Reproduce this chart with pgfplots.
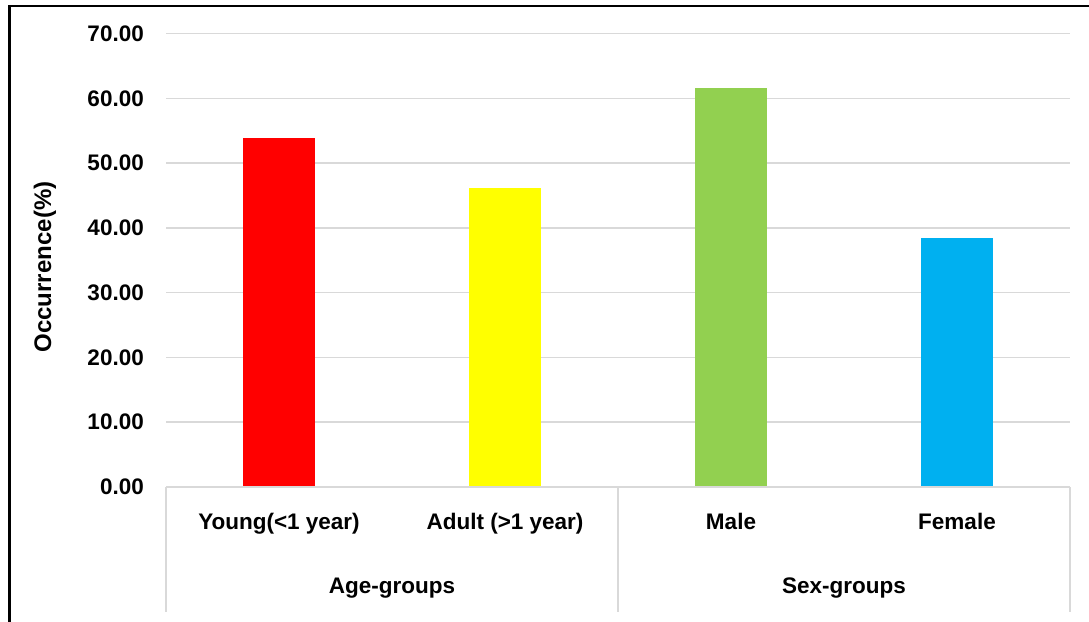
\documentclass[border=0pt]{standalone}
\usepackage{fontspec}
\setmainfont{Liberation Sans}
\usepackage{pgfplots}
\pgfplotsset{compat=1.18}
\definecolor{gridgray}{HTML}{D9D9D9}
\definecolor{barred}{HTML}{FF0000}
\definecolor{baryellow}{HTML}{FFFF00}
\definecolor{bargreen}{HTML}{92D050}
\definecolor{barblue}{HTML}{00B0F0}
\newcommand{\lbl}{\fontsize{22.5}{27}\selectfont\bfseries}
\begin{document}
\begin{tikzpicture}
\useasboundingbox (0,0) rectangle (1089pt,621pt);
\clip (0,0) rectangle (1089pt,621pt);
\fill[white] (0,0) rectangle (1089pt,621pt);
\draw[line width=2.3pt,black] (9.5pt,-20pt) -- (9.5pt,615pt) -- (1120pt,615pt);
\begin{axis}[
  at={(166pt,134pt)}, anchor=south west,
  scale only axis, width=904pt, height=453.3pt,
  ybar, bar width=72pt,
  xmin=-0.5, xmax=3.5, ymin=0, ymax=70,
  ytick={0,10,...,70},
  xtick={0,1,2,3},
  xticklabels={Young(<1 year), Adult (>1 year), Male, Female},
  ymajorgrids, grid style={gridgray, line width=1.5pt},
  axis line style={draw=none},
  major tick length=0pt, tick style={draw=none},
  /pgf/number format/assume math mode=true,
  yticklabel={\pgfmathprintnumber[fixed,fixed zerofill,precision=2]{\tick}},
  yticklabel style={font=\lbl, anchor=east, inner sep=0pt, xshift=-22pt},
  xticklabel style={font=\lbl, anchor=base, inner sep=0pt, yshift=-42pt},
  clip=false,
]
\addplot[fill=barred, draw=none, bar shift=0pt] coordinates {(0,53.85)};
\addplot[fill=baryellow, draw=none, bar shift=0pt] coordinates {(1,46.15)};
\addplot[fill=bargreen, draw=none, bar shift=0pt] coordinates {(2,61.54)};
\addplot[fill=barblue, draw=none, bar shift=0pt] coordinates {(3,38.46)};
\draw[gridgray, line width=1.5pt] (axis cs:-0.5,0) -- (axis cs:3.5,0);
\draw[gridgray, line width=1.5pt] (axis cs:-0.5,0) -- ([yshift=-125pt]axis cs:-0.5,0);
\draw[gridgray, line width=1.5pt] (axis cs:1.5,0) -- ([yshift=-125pt]axis cs:1.5,0);
\draw[gridgray, line width=1.5pt] (axis cs:3.5,0) -- ([yshift=-125pt]axis cs:3.5,0);
\node[font=\lbl, anchor=base, inner sep=0pt] at ([yshift=-106pt]axis cs:0.5,0) {Age-groups};
\node[font=\lbl, anchor=base, inner sep=0pt] at ([yshift=-106pt]axis cs:2.5,0) {Sex-groups};
\end{axis}
\node[font=\fontsize{24}{28}\selectfont\bfseries, rotate=90, inner sep=0pt] at (45pt,354pt) {Occurrence(\%)};
\end{tikzpicture}
\end{document}
